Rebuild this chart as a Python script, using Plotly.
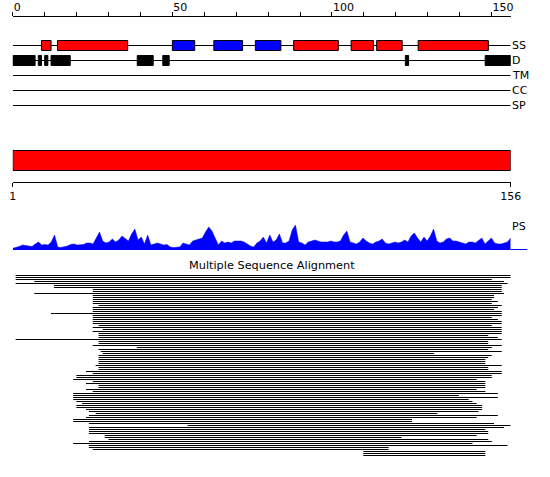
import plotly.graph_objects as go

W, H = 550, 477
SEQ_LEN = 156

# ---------------- data ----------------
track_names = ["SS", "D", "TM", "CC", "SP"]

ss_start = [9, 14, 50, 63, 76, 88, 106, 114, 127]
ss_end = [12, 36, 57, 72, 84, 102, 113, 122, 149]
ss_type = ["H", "H", "E", "E", "E", "H", "H", "H", "H"]

dis_start = [0, 8, 10, 12, 39, 47, 123, 148]
dis_end = [7, 9, 11, 18, 44, 49, 124, 156]

ps_values = [
    1.7, 2.5, 3.5, 5, 4.5, 4, 3.5, 6, 8, 5,
    5.5, 5, 8, 15, 3, 2.5, 3, 4, 5.5, 6,
    5, 5, 5.5, 7, 7, 6, 12, 18, 9, 7,
    8, 11, 8, 10, 14, 11, 9, 16, 21, 10,
    13, 6, 15, 5, 6, 7, 6, 5, 5.5, 3,
    2.5, 2.5, 3, 7, 6, 5, 9, 10, 11, 12,
    18, 23, 19, 12, 5, 9, 7, 8, 7, 9,
    9, 9, 8, 6, 4, 3, 7, 9, 13, 7,
    15, 8, 10, 16, 7, 7, 9, 20, 25, 8,
    7, 5, 8, 9, 10, 9, 8, 8, 8, 9,
    8, 8, 9, 15, 19, 8, 7, 6, 8, 12,
    9, 7, 6, 8, 9, 11, 7, 6, 7, 8,
    7, 8, 10, 8, 14, 17, 12, 8, 13, 9,
    14, 21, 9, 7, 8, 11, 12, 9, 9, 8,
    7, 6, 8, 8, 7, 10, 12, 6, 9, 12,
    7, 6, 6, 7, 8, 12,
]

msa_start = [
    1.9, 1.9, 1.9, 7.7, 1.9, 13.8, 13.8, 25.9, 25.9, 7.7,
    25.9, 25.9, 25.9, 25.9, 25.9, 27.7, 25.9, 25.9, 25.9, 12.9,
    25.9, 25.9, 25.9, 25.9, 25.9, 27.7, 25.9, 29.0, 25.9, 27.7,
    27.7, 27.7, 1.9, 27.7, 27.7, 25.9, 39.6, 27.7, 28.4, 29.0,
    27.7, 27.7, 27.7, 27.7, 27.7, 26.8, 27.7, 27.7, 23.8, 25.9,
    20.8, 20.8, 19.8, 25.9, 23.8, 27.7, 27.7, 23.8, 25.9, 19.8,
    19.8, 19.8, 19.8, 20.8, 22.6, 20.8, 20.8, 23.8, 24.7, 26.8,
    24.7, 23.8, 19.8, 19.8, 24.7, 55.4, 24.7, 24.7, 24.7, 24.7,
    29.6, 29.6, 30.8, 24.7, 19.8, 24.7, 24.7, 25.9, 110.1, 110.1,
    110.1,
]
msa_end = [
    156.0, 156.0, 150.1, 153.9, 155.0, 153.2, 153.2, 153.2, 153.2, 153.9,
    150.8, 150.8, 150.1, 152.0, 150.1, 153.2, 152.0, 150.8, 153.2, 153.2,
    153.2, 150.1, 152.0, 153.2, 153.2, 150.1, 153.2, 153.2, 153.2, 153.2,
    149.0, 152.0, 153.2, 149.0, 149.0, 153.2, 150.1, 149.0, 153.2, 132.2,
    150.1, 149.0, 148.1, 148.1, 148.1, 153.2, 149.0, 149.0, 153.2, 153.2,
    150.1, 150.1, 145.4, 148.1, 148.1, 148.1, 148.1, 145.4, 148.1, 152.0,
    139.9, 152.0, 142.9, 144.1, 145.4, 147.1, 147.1, 147.1, 146.0, 133.2,
    152.0, 145.4, 125.3, 125.3, 150.8, 156.0, 153.9, 148.1, 149.0, 149.0,
    145.4, 122.0, 149.0, 150.1, 144.1, 155.0, 118.0, 118.0, 148.1, 148.1,
    148.1,
]

# ---------------- layout constants ----------------
FONT = "DejaVu Sans"
track_y = [45.5, 60.5, 75.5, 90.5, 105.5]
box_half = 5
ss_color = {"H": "#ff0000", "E": "#0000ff"}
seqbar_top, seqbar_bot = 150.5, 170.5
ps_base_px, ps_top_px = 250, 225
msa_top_px, msa_pitch = 275.5, 2
n_rows = len(msa_start)

def pfy(px):
    return 1 - px / H

dom = [10 / W, 520 / W]

fig = go.Figure()

# track baselines
tx, ty = [], []
for yv in track_y:
    tx += [0, SEQ_LEN, None]
    ty += [yv, yv, None]
fig.add_trace(go.Scatter(x=tx, y=ty, mode="lines", line=dict(color="black", width=1),
                         xaxis="x2", yaxis="y", hoverinfo="skip", showlegend=False))

shapes = []
for s, e, t in zip(ss_start, ss_end, ss_type):
    shapes.append(dict(type="rect", xref="x2", yref="y", x0=s, x1=e,
                       y0=track_y[0] - box_half, y1=track_y[0] + box_half,
                       fillcolor=ss_color[t], line=dict(color="black", width=1)))
for s, e in zip(dis_start, dis_end):
    shapes.append(dict(type="rect", xref="x2", yref="y", x0=s, x1=e,
                       y0=track_y[1] - box_half, y1=track_y[1] + box_half,
                       fillcolor="black", line=dict(color="black", width=1)))

# full-length sequence bar
fig.add_trace(go.Scatter(x=[1, SEQ_LEN, SEQ_LEN, 1, 1],
                         y=[seqbar_top, seqbar_top, seqbar_bot, seqbar_bot, seqbar_top],
                         mode="lines", fill="toself", fillcolor="#ff0000",
                         line=dict(color="black", width=1),
                         xaxis="x3", yaxis="y", hoverinfo="skip", showlegend=False))

# PS profile
fig.add_trace(go.Scatter(x=list(range(1, SEQ_LEN + 1)), y=ps_values, mode="lines",
                         fill="tozeroy", fillcolor="#0000ff",
                         line=dict(color="#0000ff", width=0.5),
                         xaxis="x3", yaxis="y2", hoverinfo="skip", showlegend=False))
shapes.append(dict(type="line", xref="paper", yref="paper", x0=520 / W, x1=537 / W,
                   y0=pfy(ps_base_px - 0.5), y1=pfy(ps_base_px - 0.5),
                   line=dict(color="#0000ff", width=1)))

# multiple sequence alignment
mx, my = [], []
for i, (s, e) in enumerate(zip(msa_start, msa_end)):
    mx += [s, e, None]
    my += [i, i, None]
fig.add_trace(go.Scatter(x=mx, y=my, mode="lines", line=dict(color="black", width=1),
                         xaxis="x3", yaxis="y3", hoverinfo="skip", showlegend=False))

annotations = []
for name, yv in zip(track_names, track_y):
    annotations.append(dict(text=name, x=519 / W, y=pfy(yv), xref="paper", yref="paper",
                            xanchor="left", yanchor="middle", showarrow=False,
                            font=dict(family=FONT, size=11, color="black")))
annotations.append(dict(text="PS", x=519 / W, y=pfy(226), xref="paper", yref="paper",
                        xanchor="left", yanchor="middle", showarrow=False,
                        font=dict(family=FONT, size=11, color="black")))
annotations.append(dict(text="Multiple Sequence Alignment", x=276 / W, y=pfy(265),
                        xref="paper", yref="paper", xanchor="center", yanchor="middle",
                        showarrow=False, font=dict(family=FONT, size=11.3, color="black")))

top_ticks = list(range(0, 151, 10))
axis_font = dict(family=FONT, size=11, color="black")
fig.update_layout(
    width=W, height=H, autosize=False,
    margin=dict(l=0, r=0, t=0, b=0, pad=0),
    paper_bgcolor="white", plot_bgcolor="rgba(0,0,0,0)",
    showlegend=False,
    xaxis=dict(visible=False),
    xaxis2=dict(domain=dom, range=[0, SEQ_LEN], anchor="free", position=pfy(15.5),
                side="top", showline=True, linecolor="black", linewidth=1,
                ticks="outside", ticklen=4, tickwidth=1, tickcolor="black",
                tickmode="array", tickvals=top_ticks,
                ticktext=[str(v) if v % 50 == 0 else "" for v in top_ticks],
                ticklabelposition="outside right", tickfont=axis_font,
                showgrid=False, zeroline=False, fixedrange=True),
    xaxis3=dict(domain=dom, range=[1, SEQ_LEN], anchor="free", position=pfy(181.5),
                side="bottom", showline=True, linecolor="black", linewidth=1,
                ticks="outside", ticklen=4, tickwidth=1, tickcolor="black",
                tickmode="array", tickvals=[1, SEQ_LEN], ticktext=["1", str(SEQ_LEN)],
                tickfont=axis_font, showgrid=False, zeroline=False, fixedrange=True),
    yaxis=dict(domain=[0, 1], range=[H, 0], visible=False, anchor="x2", fixedrange=True),
    yaxis2=dict(domain=[pfy(ps_base_px), pfy(ps_top_px)], range=[0, 25], visible=False,
                anchor="x3", fixedrange=True),
    yaxis3=dict(domain=[pfy(msa_top_px + msa_pitch * (n_rows - 0.5)), pfy(msa_top_px - msa_pitch / 2)],
                range=[n_rows - 0.5, -0.5], visible=False, anchor="x3", fixedrange=True),
    shapes=shapes, annotations=annotations,
)

fig.write_html("out.html", config={"displayModeBar": False, "staticPlot": True},
               post_script="document.body.style.margin='0';")
